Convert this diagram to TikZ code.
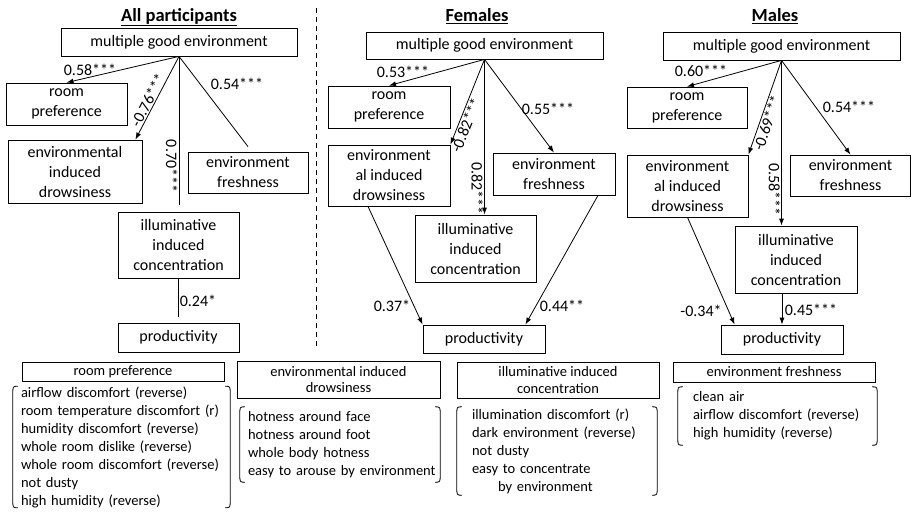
\documentclass[tikz,border=0pt]{standalone}
\usepackage{fontspec}
\setmainfont{Carlito}
\usetikzlibrary{arrows.meta}

% rounded bracket on both sides of a list node
\newcommand\drawlistbrace[1]{%
  \draw[brk] ([xshift=5pt]#1.north west) .. controls (#1.north west) .. ([yshift=-8pt]#1.north west)
    -- ([yshift=8pt]#1.south west) .. controls (#1.south west) .. ([xshift=5pt]#1.south west);
  \draw[brk] ([xshift=-5pt]#1.north east) .. controls (#1.north east) .. ([yshift=-8pt]#1.north east)
    -- ([yshift=8pt]#1.south east) .. controls (#1.south east) .. ([xshift=-5pt]#1.south east);
}

\begin{document}
\begin{tikzpicture}[x=1pt,y=-1pt,
  box/.style={draw, line width=0.8pt, inner sep=0pt, align=center,
    font=\fontsize{16}{20}\selectfont},
  lbl/.style={inner sep=1pt, font=\fontsize{16}{19}\selectfont},
  hdr/.style={draw, line width=0.8pt, inner sep=0pt, align=center,
    font=\fontsize{14.5}{16.7}\selectfont},
  lst/.style={inner ysep=0pt, align=left, font=\fontsize{14.5}{18}\selectfont},
  ttl/.style={inner sep=0pt, font=\fontsize{18.5}{22}\selectfont\bfseries},
  conn/.style={line width=0.8pt},
  arr/.style={conn, -{Latex[length=7pt,width=5pt]}},
  brk/.style={line width=0.8pt},
]
\useasboundingbox (0,0) rectangle (912,512);

% ---------- titles and separator ----------
\node[ttl] (tA) at (179,17) {\underline{All participants}};
\node[ttl] (tB) at (477,16) {\underline{Females}};
\node[ttl] (tC) at (775,16) {\underline{Males}};
\draw[line width=0.8pt, dash pattern=on 5pt off 4pt] (316,8) -- (316,346);

% ---------- all participants ----------
\node[box, minimum width=236pt, minimum height=28pt] (mgeA) at (179,42) {multiple good environment};
\node[box, minimum width=121pt, minimum height=42pt] (rpA) at (66.5,104) {room\\preference};
\node[box, minimum width=134pt, minimum height=63pt] (edA) at (75,171.5) {environmental\\induced\\drowsiness};
\node[box, minimum width=120pt, minimum height=41pt] (efA) at (248,172.5) {environment\\freshness};
\node[box, minimum width=121pt, minimum height=66pt] (icA) at (178.5,245) {illuminative\\induced\\concentration};
\node[box, minimum width=121pt, minimum height=29pt] (prA) at (178.5,337.5) {productivity};
\coordinate (icAtop) at ([yshift=7pt]icA.north);

\draw[arr] (mgeA.south) -- (rpA.north);
\draw[arr] (mgeA.south) -- node[lbl, sloped, pos=0.567, above] {-0.76***} ([xshift=-7pt]edA.north east);
\draw[conn] (mgeA.south) -- node[lbl, rotate=-90, anchor=north, pos=0.74] {0.70***} (mgeA.south |- icAtop);
\draw[conn] (mgeA.south) -- ([yshift=5pt]efA.north);
\draw[conn] (icA.south) -- ([yshift=6pt]prA.north);
\node[lbl] (lA1) at (90,70) {0.58***};
\node[lbl] (lA2) at (237,84) {0.54***};
\node[lbl] (lA3) at (198,301) {0.24*};

% ---------- females ----------
\node[box, minimum width=237pt, minimum height=27pt] (mgeB) at (484.5,45.5) {multiple good environment};
\node[box, minimum width=122pt, minimum height=42pt] (rpB) at (389,107) {room\\preference};
\node[box, minimum width=122pt, minimum height=61pt] (edB) at (389,175.5) {environment\\al induced\\drowsiness};
\node[box, minimum width=122pt, minimum height=42pt] (efB) at (554,174) {environment\\freshness};
\node[box, minimum width=121pt, minimum height=67pt] (icB) at (475.5,248.5) {illuminative\\induced\\concentration};
\node[box, minimum width=122pt, minimum height=28pt] (prB) at (484,339) {productivity};

\draw[arr] (mgeB.south) -- (rpB.north);
\draw[arr] (mgeB.south) -- node[lbl, sloped, pos=0.74, below] {-0.82***} (edB.north east);
\draw[arr] (mgeB.south) -- node[lbl, rotate=-90, anchor=north, pos=0.83] {0.82***} (mgeB.south |- icB.north);
\draw[arr] (mgeB.south) -- (efB.north);
\draw[arr] ([xshift=-21pt]edB.south) -- (prB.north west);
\draw[arr] ([xshift=44pt]efB.south) -- ([xshift=-20pt]prB.north east);
\node[lbl] (lB1) at (403,72) {0.53***};
\node[lbl] (lB2) at (548,109) {0.55***};
\node[lbl] (lB3) at (392,306) {0.37*};
\node[lbl] (lB4) at (562,306) {0.44**};

% ---------- males ----------
\node[box, minimum width=237pt, minimum height=28pt] (mgeC) at (781.5,46) {multiple good environment};
\node[box, minimum width=120pt, minimum height=41pt] (rpC) at (687,107.5) {room\\preference};
\node[box, minimum width=121pt, minimum height=62pt] (edC) at (687.5,186) {environment\\al induced\\drowsiness};
\node[box, minimum width=120pt, minimum height=41pt] (efC) at (850.5,175.5) {environment\\freshness};
\node[box, minimum width=122pt, minimum height=67pt] (icC) at (796,259.5) {illuminative\\induced\\concentration};
\node[box, minimum width=122pt, minimum height=29pt] (prC) at (782,339.5) {productivity};

\draw[arr] (mgeC.south) -- (rpC.north);
\draw[arr] (mgeC.south) -- node[lbl, sloped, pos=0.64, below] {-0.69***} (edC.north east);
\draw[arr] (mgeC.south) -- node[lbl, rotate=-90, anchor=north, pos=0.78] {0.58***} (mgeC.south |- icC.north);
\draw[arr] (mgeC.south) -- (efC.north);
\draw[arr] (edC.south) -- ([xshift=14pt]prC.north west);
\draw[arr] (prC.north |- icC.south) -- (prC.north);
\node[lbl] (lC1) at (701,71) {0.60***};
\node[lbl] (lC2) at (849,107) {0.54***};
\node[lbl] (lC3) at (701,311) {-0.34*};
\node[lbl] (lC4) at (811,310) {0.45***};

% ---------- factor item lists ----------
\node[hdr, minimum width=202pt, minimum height=19pt] (hA) at (123,371.5) {room preference};
\node[lst, text width=201pt, inner xsep=8pt, minimum height=120pt] (bA) at (121.5,447)
  {airflow discomfort (reverse)\\room temperature discomfort (r)\\humidity discomfort (reverse)\\whole room dislike (reverse)\\whole room discomfort (reverse)\\not dusty\\high humidity (reverse)};
\drawlistbrace{bA}

\node[hdr, minimum width=203pt, minimum height=37pt] (hB) at (338.5,379.5) {environmental induced\\drowsiness};
\node[lst, text width=192pt, inner xsep=4pt, minimum height=75pt] (bB) at (340,444.5)
  {\hspace*{4pt}hotness around face\\\hspace*{4pt}hotness around foot\\\hspace*{4pt}whole body hotness\\\hspace*{4pt}easy to arouse by environment};
\drawlistbrace{bB}

\node[hdr, minimum width=202pt, minimum height=36pt] (hC) at (558,380) {illuminative induced\\concentration};
\node[lst, text width=178pt, inner xsep=11pt, minimum height=88pt] (bC) at (557,451)
  {\hspace*{4pt}illumination discomfort (r)\\\hspace*{4pt}dark environment (reverse)\\\hspace*{4pt}not dusty\\\hspace*{4pt}easy to concentrate\\\hspace*{30pt}by environment};
\drawlistbrace{bC}

\node[hdr, minimum width=202pt, minimum height=20pt] (hD) at (774,372) {environment freshness};
\node[lst, text width=177pt, inner xsep=11pt, minimum height=58pt] (bD) at (777.5,416)
  {\hspace*{4pt}clean air\\\hspace*{4pt}airflow discomfort (reverse)\\\hspace*{4pt}high humidity (reverse)};
\drawlistbrace{bD}

\end{tikzpicture}
\end{document}
